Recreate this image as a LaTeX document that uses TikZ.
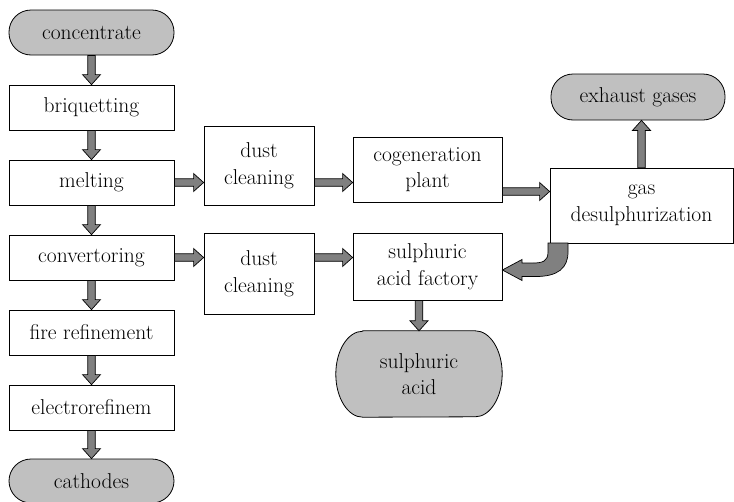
\documentclass[tikz,border=0pt]{standalone}
\usepackage{fontspec}
\usetikzlibrary{calc}
\definecolor{termgray}{RGB}{192,192,192}
\definecolor{arrgray}{RGB}{128,128,128}
\tikzset{
  procbox/.style={draw=black, line width=0.8pt, fill=white, inner sep=0pt, align=center,
    font=\rmfamily\fontsize{21.5}{26.5}\selectfont},
  termbox/.style={procbox, fill=termgray, rounded corners=22pt},
  barrowstyle/.style={draw=black, fill=arrgray, line width=0.7pt, line join=miter},
}
\newcommand\barrow[2]{%
  \filldraw[barrowstyle] let \p1=#1, \p2=#2,
    \n1={atan2(\y2-\y1,\x2-\x1)}, \n2={veclen(\x2-\x1,\y2-\y1)} in
  [shift={(\p1)}, rotate=\n1]
  (0pt,-3.75pt) -- ({\n2*1pt-10pt},-3.75pt) -- ({\n2*1pt-10pt},-9pt) -- ({\n2*1pt},0pt)
  -- ({\n2*1pt-10pt},9pt) -- ({\n2*1pt-10pt},3.75pt) -- (0pt,3.75pt) -- cycle;}
\begin{document}
\begin{tikzpicture}[x=1pt,y=-1pt]
\useasboundingbox (0,0) rectangle (734,501);
% left column
\node[termbox, minimum width=165pt, minimum height=45pt] (conc) at (91.5,32.5) {concentrate};
\node[procbox, minimum width=165pt, minimum height=45pt] (briq) at (91.5,107.5) {briquetting};
\node[procbox, minimum width=165pt, minimum height=45pt] (melt) at (91.5,182.5) {melting};
\node[procbox, minimum width=165pt, minimum height=45pt] (conv) at (91.5,257.5) {convertoring};
\node[procbox, minimum width=165pt, minimum height=45pt] (fire) at (91.5,332.5) {fire refinement};
\node[procbox, minimum width=165pt, minimum height=45pt] (elec) at (91.5,407.5) {electrorefinem};
\node[termbox, minimum width=165pt, minimum height=44pt] (cath) at (91.5,481) {cathodes};
% middle
\node[procbox, minimum width=110pt, minimum height=79pt] (dusta) at (259,165.5) {dust\\cleaning};
\node[procbox, minimum width=110pt, minimum height=81pt] (dustb) at (259,273.5) {dust\\cleaning};
\node[procbox, minimum width=149pt, minimum height=65pt] (cogen) at (427.5,169.5) {cogeneration\\plant};
\node[procbox, minimum width=149pt, minimum height=67pt] (fact) at (427.5,266.5) {sulphuric\\acid factory};
% sulphuric acid terminal with elliptic ends
\node[inner sep=0pt, minimum width=166pt, minimum height=86pt] (acid) at (419,374) {};
\filldraw[draw=black, fill=termgray, line width=0.8pt]
  ([xshift=27pt]acid.north west) -- ([xshift=-27pt]acid.north east)
  arc[start angle=90, end angle=-90, x radius=27pt, y radius=43pt]
  -- ([xshift=27pt]acid.south west)
  arc[start angle=270, end angle=90, x radius=27pt, y radius=43pt] -- cycle;
\node[align=center, inner sep=0pt, font=\rmfamily\fontsize{21.5}{26.5}\selectfont] (acidtext) at (acid.center) {sulphuric\\acid};
% right
\node[procbox, minimum width=183pt, minimum height=75pt] (gas) at (641.5,205.5) {gas\\desulphurization};
\node[termbox, minimum width=174pt, minimum height=46pt] (exh) at (638,97) {exhaust gases};
% arrows left column
\barrow{(conc.south)}{(briq.north)}
\barrow{(briq.south)}{(melt.north)}
\barrow{(melt.south)}{(conv.north)}
\barrow{(conv.south)}{(fire.north)}
\barrow{(fire.south)}{(elec.north)}
\barrow{(elec.south)}{(cath.north)}
% horizontal arrows
\barrow{(melt.east)}{(melt.east -| dusta.west)}
\barrow{(melt.east -| dusta.east)}{(melt.east -| cogen.west)}
\barrow{(conv.east)}{(conv.east -| dustb.west)}
\barrow{(conv.east -| dustb.east)}{(conv.east -| fact.west)}
\coordinate (cg) at ([yshift=-22pt]cogen.east);
\barrow{(cg)}{(cg -| gas.west)}
% up arrow to exhaust
\barrow{(gas.north)}{(gas.north |- exh.south)}
% down arrow factory -> acid
\coordinate (fa) at (acid.north |- fact.south);
\barrow{(fa)}{(acid.north)}
% curved arrow gas -> factory
\coordinate (ct) at ([yshift=-3.5pt]fact.east);
\filldraw[barrowstyle]
  (548,243) -- (548,252) .. controls (548,261) and (543,263) .. (533,263)
  -- (522,263) -- (522,259.5) -- (ct) -- (522,280.5) -- (522,276.5)
  -- (536,276.5) .. controls (558,276.5) and (568,268) .. (568,252)
  -- (568,243) -- cycle;
\end{tikzpicture}
\end{document}
